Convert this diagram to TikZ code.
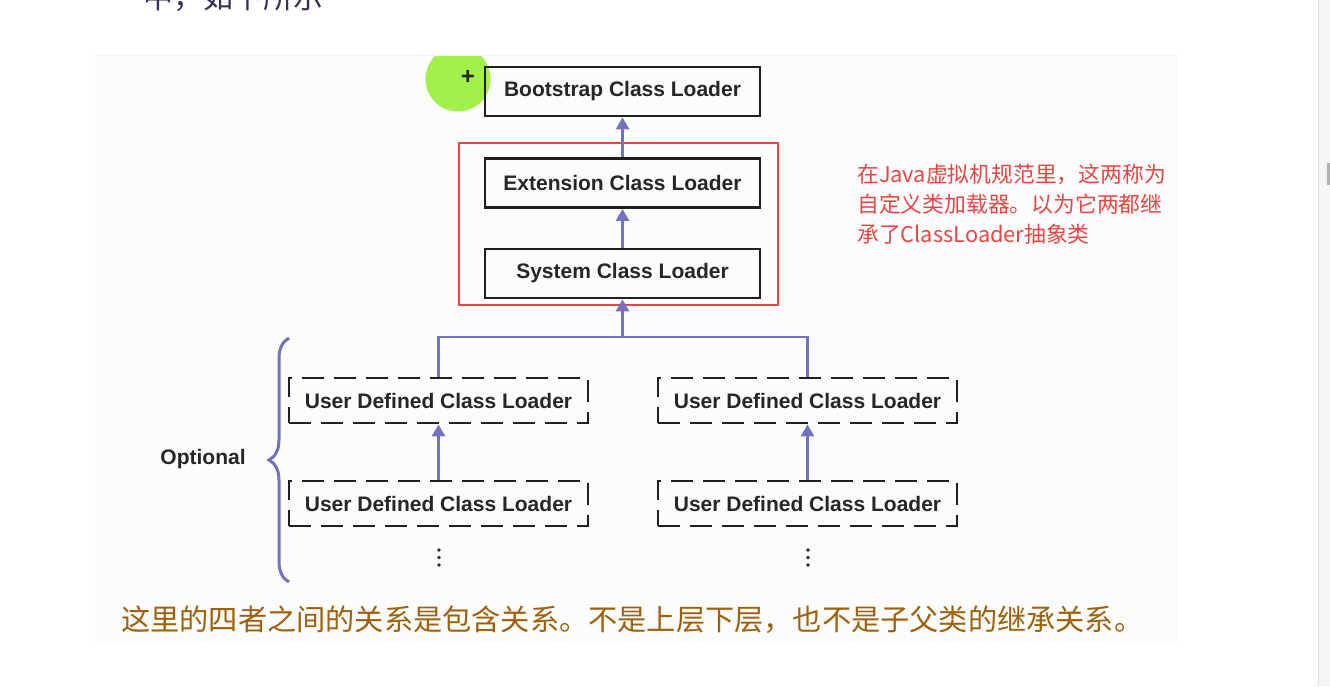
\documentclass[tikz,border=0pt]{standalone}
\usepackage{fontspec}
\setmainfont{Liberation Sans}
\newfontfamily\cjk{Noto Sans CJK SC}
\usetikzlibrary{arrows.meta,decorations.pathreplacing}
\definecolor{arr}{HTML}{7272C2}
\definecolor{redbox}{HTML}{E84545}
\definecolor{brown}{HTML}{A0600A}
\definecolor{panel}{HTML}{FCFCFC}
\definecolor{cursor}{HTML}{A3F04C}
\tikzset{
  solidbox/.style={draw=black!88, line width=2.8pt, minimum width=275pt, minimum height=49pt, inner sep=0pt, font=\fontsize{21}{24}\selectfont\bfseries, text=black!85},
  dashbox/.style={draw=black!88, line width=2.8pt, dash pattern=on 22pt off 10pt, minimum width=299pt, minimum height=45pt, inner sep=0pt, font=\fontsize{21}{24}\selectfont\bfseries, text=black!85},
  link/.style={draw=arr, line width=2.8pt},
  uparrow/.style={link, -{Triangle[length=12pt,width=13pt]}},
  vdot/.style={circle, fill=black!85, inner sep=0pt, minimum size=3.6pt},
}
\begin{document}
\begin{tikzpicture}[x=1pt,y=-1pt]
\clip (0,0) rectangle (1330,686);
\fill[white] (0,0) rectangle (1330,686);
% page panel
\fill[panel] (95,55) rectangle (1178,645);
\draw[black!6, line width=1pt] (95,55) -- (1178,55);
% scrollbar
\fill[black!4] (1318,0) rectangle (1330,686);
\draw[black!12, line width=1pt] (1318,0) -- (1318,686);
\fill[black!30] (1327,163) rectangle (1330,185);
% cut-off text at top
\node[anchor=base west, text=black!75!blue!60!gray, font=\cjk\fontsize{30}{32}\selectfont] (toptext) at (140,8) {中，如下所示};
% cursor highlight
\begin{scope}
\clip (95,56) rectangle (1178,645);
\fill[cursor] (458,79) circle (32.5);
\end{scope}
\node[font=\fontsize{24}{26}\selectfont\bfseries, text=black!85] (plus) at (468,77) {+};

% main boxes
\node[solidbox] (boot) at (622.5,91.5) {Bootstrap Class Loader};
\node[solidbox] (ext) at (622.5,183) {Extension Class Loader};
\node[solidbox] (sys) at (622.5,273.5) {System Class Loader};
\node[draw=redbox, line width=2pt, minimum width=319pt, minimum height=162pt, inner sep=0pt] (frame) at (618.5,224) {};

% user defined boxes
\node[dashbox] (u1) at (438.5,400.5) {User Defined Class Loader};
\node[dashbox] (u2) at (807.5,400.5) {User Defined Class Loader};
\node[dashbox] (u3) at (438.5,503.5) {User Defined Class Loader};
\node[dashbox] (u4) at (807.5,503.5) {User Defined Class Loader};

% connectors
\draw[uparrow] (ext.north) -- (boot.south);
\draw[uparrow] (sys.north) -- (ext.south);
\coordinate (j) at (622.5,337);
\draw[uparrow] (j) -- (sys.south);
\draw[link] (u1.north) |- (j) -| (u2.north);
\draw[uparrow] (u3.north) -- (u1.south);
\draw[uparrow] (u4.north) -- (u2.south);

% dots
\foreach \x/\n in {439/a,808/b}{
  \node[vdot] (d\n1) at (\x,550) {};
  \node[vdot] (d\n2) at (\x,557.5) {};
  \node[vdot] (d\n3) at (\x,565) {};
}

% brace
\coordinate (bt) at (289,338);
\coordinate (bb) at (289,582);
\draw[arr, line width=3pt, decorate, decoration={brace, amplitude=20pt, aspect=0.5}] (bb) -- (bt);
\node[font=\fontsize{21}{24}\selectfont\bfseries, text=black!85] (opt) at (203,459) {Optional};

% red note
\node[anchor=north west, align=left, text=redbox, font=\cjk\fontsize{21.8}{30}\selectfont, inner sep=0pt] (note) at (857,164) {在Java虚拟机规范里，这两称为\\自定义类加载器。以为它两都继\\承了ClassLoader抽象类};

% bottom caption
\node[anchor=west, text=brown, font=\cjk\fontsize{29.2}{32}\selectfont, inner sep=0pt] (cap) at (121,620) {这里的四者之间的关系是包含关系。不是上层下层，也不是子父类的继承关系。};
\end{tikzpicture}
\end{document}
